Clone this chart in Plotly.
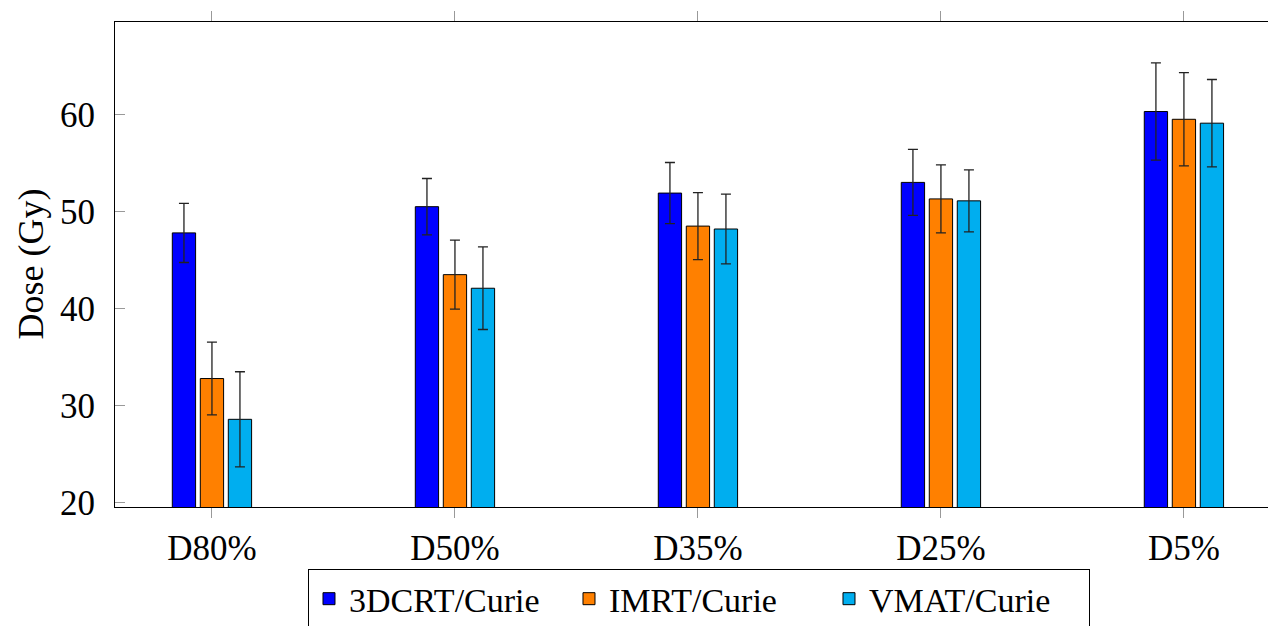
import plotly.graph_objects as go

categories = ["D80%", "D50%", "D35%", "D25%", "D5%"]
series_names = ["3DCRT/Curie", "IMRT/Curie", "VMAT/Curie"]
dcrt_values = [47.8, 50.5, 51.9, 53.0, 60.3]
dcrt_errors = [3.05, 2.9, 3.15, 3.4, 5.0]
imrt_values = [32.8, 43.5, 48.5, 51.3, 59.5]
imrt_errors = [3.75, 3.55, 3.45, 3.5, 4.8]
vmat_values = [28.6, 42.1, 48.2, 51.1, 59.1]
vmat_errors = [4.9, 4.25, 3.6, 3.2, 4.5]
colors = ["#0000FF", "#FF8000", "#00AEEF"]
y_ticks = [20, 30, 40, 50, 60]

FONT = "Liberation Serif, DejaVu Serif, serif"

fig = go.Figure()
for name, vals, errs, col in zip(series_names,
                                 [dcrt_values, imrt_values, vmat_values],
                                 [dcrt_errors, imrt_errors, vmat_errors],
                                 colors):
    fig.add_trace(go.Bar(
        x=categories, y=vals, name=name,
        marker=dict(color=col, line=dict(color="black", width=1)),
        error_y=dict(type="data", array=errs, visible=True,
                     color="#222222", thickness=1.3, width=5),
    ))

fig.update_layout(
    width=1268, height=626,
    margin=dict(l=115, r=0, t=22, b=119, autoexpand=False),
    paper_bgcolor="white", plot_bgcolor="white",
    barmode="group", bargap=0.6543, bargroupgap=0.168,
    font=dict(family=FONT, size=35, color="black"),
    showlegend=True,
    legend=dict(orientation="h", x=0.5065, xanchor="center",
                y=-0.128, yanchor="top",
                bordercolor="black", borderwidth=1,
                font=dict(family=FONT, size=34),
                itemwidth=30, tracegroupgap=0,
                entrywidth=215, entrywidthmode="pixels"),
    xaxis=dict(
        type="category", range=[-0.399, 4.346],
        showline=True, linecolor="black", linewidth=1, mirror="ticks",
        ticks="outside", ticklen=10, tickcolor="#999999", tickwidth=1,
        showgrid=False, zeroline=False,
        tickfont=dict(family=FONT, size=35),
    ),
    yaxis=dict(
        range=[19.57, 69.52], tickvals=y_ticks,
        showline=True, linecolor="black", linewidth=1, mirror=False,
        ticks="inside", ticklen=10, tickcolor="#999999", tickwidth=1,
        showgrid=False, zeroline=False,
        ticklabelstandoff=12,
        tickfont=dict(family=FONT, size=35),
    ),
    annotations=[dict(
        text="Dose (Gy)", textangle=-90, xref="paper", yref="paper",
        x=-0.0737, y=0.5, xanchor="center", yanchor="middle",
        showarrow=False, font=dict(family=FONT, size=36),
    )],
)

fig.write_html("out.html")
